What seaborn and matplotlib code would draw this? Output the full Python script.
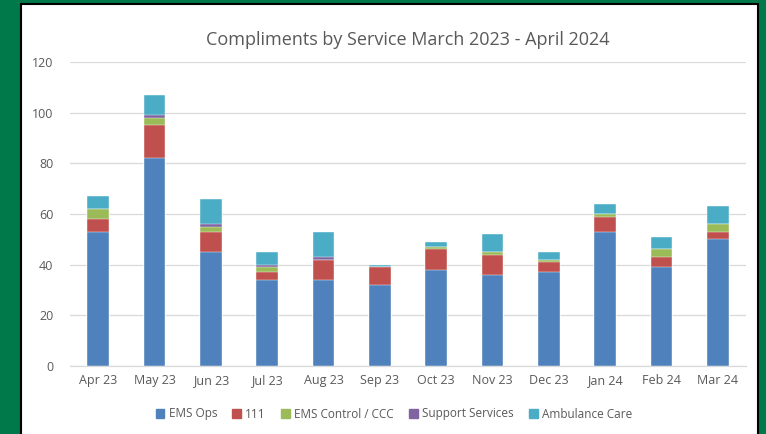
import numpy as np
import pandas as pd
import matplotlib
matplotlib.use("Agg")
import matplotlib.pyplot as plt
import matplotlib.patches as mpatches
import seaborn as sns

months = ["Apr 23", "May 23", "Jun 23", "Jul 23", "Aug 23", "Sep 23",
          "Oct 23", "Nov 23", "Dec 23", "Jan 24", "Feb 24", "Mar 24"]
ems_ops = [53, 82, 45, 34, 34, 32, 38, 36, 37, 53, 39, 50]
nhs_111 = [5, 13, 8, 3, 8, 7, 8, 8, 4, 6, 4, 3]
ems_control = [4, 3, 2, 2, 0, 0, 1, 1, 1, 1, 3, 3]
support = [0, 1, 1, 1, 1, 0, 0, 0, 0, 0, 0, 0]
ambulance = [5, 8, 10, 5, 10, 1, 2, 7, 3, 4, 5, 7]

series = ["EMS Ops", "111", "EMS Control / CCC", "Support Services", "Ambulance Care"]
colors = ["#4F81BD", "#C0504D", "#9BBB59", "#8064A2", "#4BACC6"]

df = pd.DataFrame({"Month": months, "EMS Ops": ems_ops, "111": nhs_111,
                   "EMS Control / CCC": ems_control,
                   "Support Services": support, "Ambulance Care": ambulance})
cum = df[series].cumsum(axis=1)
cum["Month"] = df["Month"]

sns.set_style("white")
plt.rcParams["font.family"] = ["Open Sans", "DejaVu Sans"]

fig = plt.figure(figsize=(7.66, 4.34), dpi=100)
fig.patch.set_facecolor("#00794A")
fig.patches.append(mpatches.Rectangle((21 / 766, -0.01), 737 / 766, 1 - 4 / 434 + 0.01,
                                      transform=fig.transFigure, facecolor="white",
                                      edgecolor="black", linewidth=1.5, zorder=-5))

ax = fig.add_axes([70 / 766, 68 / 434, 676 / 766, 304 / 434])
ax.set_zorder(2)
ax.set_facecolor("none")

# draw the stacks from the top down so each layer covers the one above
for name, col in reversed(list(zip(series, colors))):
    sns.barplot(data=cum, x="Month", y=name, color=col, width=0.39,
                saturation=1, ax=ax, zorder=3, edgecolor="white", linewidth=0.3)

ax.set_ylim(0, 120)
ax.set_yticks(range(0, 121, 20))
ax.set_xlim(-0.5, 11.5)
ax.yaxis.grid(True, color="#D9D9D9", linewidth=0.9, zorder=0)
ax.set_axisbelow(True)
for s in ["top", "right", "left"]:
    ax.spines[s].set_visible(False)
ax.spines["bottom"].set_color("#D9D9D9")
ax.spines["bottom"].set_linewidth(0.9)
ax.tick_params(axis="both", length=0, colors="#595959", labelsize=9)
ax.tick_params(axis="y", pad=12)
ax.tick_params(axis="x", pad=6)
ax.set_xlabel("")
ax.set_ylabel("")

fig.text(408 / 766, 1 - 40 / 434, "Compliments by Service March 2023 - April 2024",
         ha="center", va="center", fontsize=13, color="#595959")

handles = [mpatches.Patch(color=c, label=s) for s, c in zip(series, colors)]
fig.legend(handles=handles, loc="center", bbox_to_anchor=(394 / 766, 1 - 414 / 434),
           ncol=5, frameon=False, fontsize=8.5, handlelength=0.7, handleheight=0.7,
           handletextpad=0.4, columnspacing=1.3, labelcolor="#595959")

fig.savefig("out.png", dpi=100, facecolor=fig.get_facecolor())
